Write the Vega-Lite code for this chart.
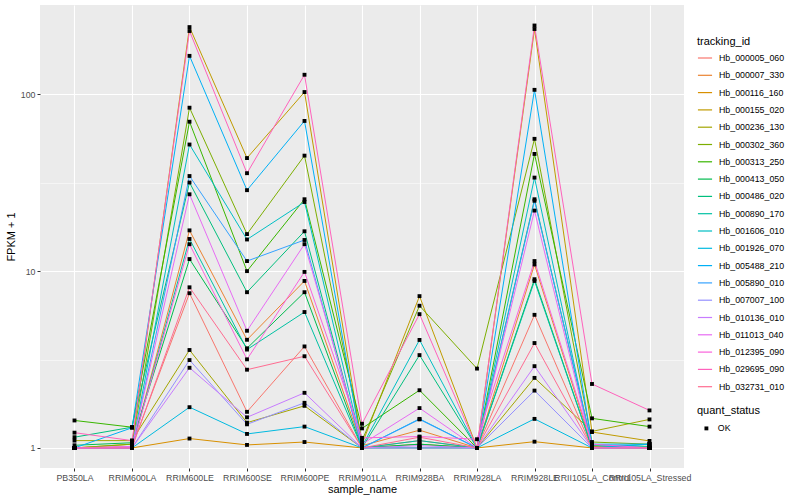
{
  "$schema": "https://vega.github.io/schema/vega-lite/v6.json",
  "width": 644,
  "height": 463,
  "autosize": {"type": "none"},
  "padding": {"left": 40, "top": 5, "right": 116, "bottom": 32},
  "config": {
    "font": "Liberation Sans",
    "view": {"fill": "#EBEBEB", "stroke": null},
    "axis": {"domain": false, "labelColor": "#4D4D4D", "labelFontSize": 8.8, "tickColor": "#333333", "tickSize": 3, "titleFontSize": 11, "titleFontWeight": "normal", "titleColor": "#000000", "gridColor": "#FFFFFF", "labelPadding": 2},
    "legend": {"labelFontSize": 8.8, "labelColor": "#000000", "titleFontSize": 11, "titleFontWeight": "normal", "titleColor": "#000000", "padding": 0}
  },
  "data": {"values": [
{"tracking_id":"Hb_000005_060","sample_name":"PB350LA","FPKM_plus_1":1.0,"quant_status":"OK"},
{"tracking_id":"Hb_000005_060","sample_name":"RRIM600LA","FPKM_plus_1":1.02,"quant_status":"OK"},
{"tracking_id":"Hb_000005_060","sample_name":"RRIM600LE","FPKM_plus_1":7.5,"quant_status":"OK"},
{"tracking_id":"Hb_000005_060","sample_name":"RRIM600SE","FPKM_plus_1":1.6,"quant_status":"OK"},
{"tracking_id":"Hb_000005_060","sample_name":"RRIM600PE","FPKM_plus_1":3.75,"quant_status":"OK"},
{"tracking_id":"Hb_000005_060","sample_name":"RRIM901LA","FPKM_plus_1":1.0,"quant_status":"OK"},
{"tracking_id":"Hb_000005_060","sample_name":"RRIM928BA","FPKM_plus_1":1.1,"quant_status":"OK"},
{"tracking_id":"Hb_000005_060","sample_name":"RRIM928LA","FPKM_plus_1":1.0,"quant_status":"OK"},
{"tracking_id":"Hb_000005_060","sample_name":"RRIM928LE","FPKM_plus_1":5.66,"quant_status":"OK"},
{"tracking_id":"Hb_000005_060","sample_name":"RRII105LA_Control","FPKM_plus_1":1.0,"quant_status":"OK"},
{"tracking_id":"Hb_000005_060","sample_name":"RRII105LA_Stressed","FPKM_plus_1":1.0,"quant_status":"OK"},
{"tracking_id":"Hb_000007_330","sample_name":"PB350LA","FPKM_plus_1":1.0,"quant_status":"OK"},
{"tracking_id":"Hb_000007_330","sample_name":"RRIM600LA","FPKM_plus_1":1.0,"quant_status":"OK"},
{"tracking_id":"Hb_000007_330","sample_name":"RRIM600LE","FPKM_plus_1":17.0,"quant_status":"OK"},
{"tracking_id":"Hb_000007_330","sample_name":"RRIM600SE","FPKM_plus_1":4.09,"quant_status":"OK"},
{"tracking_id":"Hb_000007_330","sample_name":"RRIM600PE","FPKM_plus_1":8.8,"quant_status":"OK"},
{"tracking_id":"Hb_000007_330","sample_name":"RRIM901LA","FPKM_plus_1":1.03,"quant_status":"OK"},
{"tracking_id":"Hb_000007_330","sample_name":"RRIM928BA","FPKM_plus_1":1.26,"quant_status":"OK"},
{"tracking_id":"Hb_000007_330","sample_name":"RRIM928LA","FPKM_plus_1":1.0,"quant_status":"OK"},
{"tracking_id":"Hb_000007_330","sample_name":"RRIM928LE","FPKM_plus_1":10.9,"quant_status":"OK"},
{"tracking_id":"Hb_000007_330","sample_name":"RRII105LA_Control","FPKM_plus_1":1.02,"quant_status":"OK"},
{"tracking_id":"Hb_000007_330","sample_name":"RRII105LA_Stressed","FPKM_plus_1":1.0,"quant_status":"OK"},
{"tracking_id":"Hb_000116_160","sample_name":"PB350LA","FPKM_plus_1":1.0,"quant_status":"OK"},
{"tracking_id":"Hb_000116_160","sample_name":"RRIM600LA","FPKM_plus_1":1.0,"quant_status":"OK"},
{"tracking_id":"Hb_000116_160","sample_name":"RRIM600LE","FPKM_plus_1":1.13,"quant_status":"OK"},
{"tracking_id":"Hb_000116_160","sample_name":"RRIM600SE","FPKM_plus_1":1.04,"quant_status":"OK"},
{"tracking_id":"Hb_000116_160","sample_name":"RRIM600PE","FPKM_plus_1":1.08,"quant_status":"OK"},
{"tracking_id":"Hb_000116_160","sample_name":"RRIM901LA","FPKM_plus_1":1.0,"quant_status":"OK"},
{"tracking_id":"Hb_000116_160","sample_name":"RRIM928BA","FPKM_plus_1":1.0,"quant_status":"OK"},
{"tracking_id":"Hb_000116_160","sample_name":"RRIM928LA","FPKM_plus_1":1.0,"quant_status":"OK"},
{"tracking_id":"Hb_000116_160","sample_name":"RRIM928LE","FPKM_plus_1":1.085,"quant_status":"OK"},
{"tracking_id":"Hb_000116_160","sample_name":"RRII105LA_Control","FPKM_plus_1":1.0,"quant_status":"OK"},
{"tracking_id":"Hb_000116_160","sample_name":"RRII105LA_Stressed","FPKM_plus_1":1.0,"quant_status":"OK"},
{"tracking_id":"Hb_000155_020","sample_name":"PB350LA","FPKM_plus_1":1.0,"quant_status":"OK"},
{"tracking_id":"Hb_000155_020","sample_name":"RRIM600LA","FPKM_plus_1":1.05,"quant_status":"OK"},
{"tracking_id":"Hb_000155_020","sample_name":"RRIM600LE","FPKM_plus_1":240,"quant_status":"OK"},
{"tracking_id":"Hb_000155_020","sample_name":"RRIM600SE","FPKM_plus_1":43.6,"quant_status":"OK"},
{"tracking_id":"Hb_000155_020","sample_name":"RRIM600PE","FPKM_plus_1":103,"quant_status":"OK"},
{"tracking_id":"Hb_000155_020","sample_name":"RRIM901LA","FPKM_plus_1":1.05,"quant_status":"OK"},
{"tracking_id":"Hb_000155_020","sample_name":"RRIM928BA","FPKM_plus_1":7.22,"quant_status":"OK"},
{"tracking_id":"Hb_000155_020","sample_name":"RRIM928LA","FPKM_plus_1":1.0,"quant_status":"OK"},
{"tracking_id":"Hb_000155_020","sample_name":"RRIM928LE","FPKM_plus_1":234,"quant_status":"OK"},
{"tracking_id":"Hb_000155_020","sample_name":"RRII105LA_Control","FPKM_plus_1":1.23,"quant_status":"OK"},
{"tracking_id":"Hb_000155_020","sample_name":"RRII105LA_Stressed","FPKM_plus_1":1.095,"quant_status":"OK"},
{"tracking_id":"Hb_000236_130","sample_name":"PB350LA","FPKM_plus_1":1.1,"quant_status":"OK"},
{"tracking_id":"Hb_000236_130","sample_name":"RRIM600LA","FPKM_plus_1":1.1,"quant_status":"OK"},
{"tracking_id":"Hb_000236_130","sample_name":"RRIM600LE","FPKM_plus_1":3.58,"quant_status":"OK"},
{"tracking_id":"Hb_000236_130","sample_name":"RRIM600SE","FPKM_plus_1":1.39,"quant_status":"OK"},
{"tracking_id":"Hb_000236_130","sample_name":"RRIM600PE","FPKM_plus_1":1.73,"quant_status":"OK"},
{"tracking_id":"Hb_000236_130","sample_name":"RRIM901LA","FPKM_plus_1":1.0,"quant_status":"OK"},
{"tracking_id":"Hb_000236_130","sample_name":"RRIM928BA","FPKM_plus_1":1.05,"quant_status":"OK"},
{"tracking_id":"Hb_000236_130","sample_name":"RRIM928LA","FPKM_plus_1":1.0,"quant_status":"OK"},
{"tracking_id":"Hb_000236_130","sample_name":"RRIM928LE","FPKM_plus_1":2.49,"quant_status":"OK"},
{"tracking_id":"Hb_000236_130","sample_name":"RRII105LA_Control","FPKM_plus_1":1.24,"quant_status":"OK"},
{"tracking_id":"Hb_000236_130","sample_name":"RRII105LA_Stressed","FPKM_plus_1":1.45,"quant_status":"OK"},
{"tracking_id":"Hb_000302_360","sample_name":"PB350LA","FPKM_plus_1":1.0,"quant_status":"OK"},
{"tracking_id":"Hb_000302_360","sample_name":"RRIM600LA","FPKM_plus_1":1.05,"quant_status":"OK"},
{"tracking_id":"Hb_000302_360","sample_name":"RRIM600LE","FPKM_plus_1":84,"quant_status":"OK"},
{"tracking_id":"Hb_000302_360","sample_name":"RRIM600SE","FPKM_plus_1":16.2,"quant_status":"OK"},
{"tracking_id":"Hb_000302_360","sample_name":"RRIM600PE","FPKM_plus_1":45,"quant_status":"OK"},
{"tracking_id":"Hb_000302_360","sample_name":"RRIM901LA","FPKM_plus_1":1.1,"quant_status":"OK"},
{"tracking_id":"Hb_000302_360","sample_name":"RRIM928BA","FPKM_plus_1":6.37,"quant_status":"OK"},
{"tracking_id":"Hb_000302_360","sample_name":"RRIM928LA","FPKM_plus_1":2.81,"quant_status":"OK"},
{"tracking_id":"Hb_000302_360","sample_name":"RRIM928LE","FPKM_plus_1":56,"quant_status":"OK"},
{"tracking_id":"Hb_000302_360","sample_name":"RRII105LA_Control","FPKM_plus_1":1.08,"quant_status":"OK"},
{"tracking_id":"Hb_000302_360","sample_name":"RRII105LA_Stressed","FPKM_plus_1":1.05,"quant_status":"OK"},
{"tracking_id":"Hb_000313_250","sample_name":"PB350LA","FPKM_plus_1":1.43,"quant_status":"OK"},
{"tracking_id":"Hb_000313_250","sample_name":"RRIM600LA","FPKM_plus_1":1.31,"quant_status":"OK"},
{"tracking_id":"Hb_000313_250","sample_name":"RRIM600LE","FPKM_plus_1":70,"quant_status":"OK"},
{"tracking_id":"Hb_000313_250","sample_name":"RRIM600SE","FPKM_plus_1":10.0,"quant_status":"OK"},
{"tracking_id":"Hb_000313_250","sample_name":"RRIM600PE","FPKM_plus_1":25.5,"quant_status":"OK"},
{"tracking_id":"Hb_000313_250","sample_name":"RRIM901LA","FPKM_plus_1":1.29,"quant_status":"OK"},
{"tracking_id":"Hb_000313_250","sample_name":"RRIM928BA","FPKM_plus_1":2.12,"quant_status":"OK"},
{"tracking_id":"Hb_000313_250","sample_name":"RRIM928LA","FPKM_plus_1":1.0,"quant_status":"OK"},
{"tracking_id":"Hb_000313_250","sample_name":"RRIM928LE","FPKM_plus_1":46,"quant_status":"OK"},
{"tracking_id":"Hb_000313_250","sample_name":"RRII105LA_Control","FPKM_plus_1":1.47,"quant_status":"OK"},
{"tracking_id":"Hb_000313_250","sample_name":"RRII105LA_Stressed","FPKM_plus_1":1.32,"quant_status":"OK"},
{"tracking_id":"Hb_000413_050","sample_name":"PB350LA","FPKM_plus_1":1.035,"quant_status":"OK"},
{"tracking_id":"Hb_000413_050","sample_name":"RRIM600LA","FPKM_plus_1":1.07,"quant_status":"OK"},
{"tracking_id":"Hb_000413_050","sample_name":"RRIM600LE","FPKM_plus_1":11.7,"quant_status":"OK"},
{"tracking_id":"Hb_000413_050","sample_name":"RRIM600SE","FPKM_plus_1":3.66,"quant_status":"OK"},
{"tracking_id":"Hb_000413_050","sample_name":"RRIM600PE","FPKM_plus_1":7.6,"quant_status":"OK"},
{"tracking_id":"Hb_000413_050","sample_name":"RRIM901LA","FPKM_plus_1":1.0,"quant_status":"OK"},
{"tracking_id":"Hb_000413_050","sample_name":"RRIM928BA","FPKM_plus_1":1.05,"quant_status":"OK"},
{"tracking_id":"Hb_000413_050","sample_name":"RRIM928LA","FPKM_plus_1":1.0,"quant_status":"OK"},
{"tracking_id":"Hb_000413_050","sample_name":"RRIM928LE","FPKM_plus_1":9.0,"quant_status":"OK"},
{"tracking_id":"Hb_000413_050","sample_name":"RRII105LA_Control","FPKM_plus_1":1.0,"quant_status":"OK"},
{"tracking_id":"Hb_000413_050","sample_name":"RRII105LA_Stressed","FPKM_plus_1":1.0,"quant_status":"OK"},
{"tracking_id":"Hb_000486_020","sample_name":"PB350LA","FPKM_plus_1":1.15,"quant_status":"OK"},
{"tracking_id":"Hb_000486_020","sample_name":"RRIM600LA","FPKM_plus_1":1.31,"quant_status":"OK"},
{"tracking_id":"Hb_000486_020","sample_name":"RRIM600LE","FPKM_plus_1":31.7,"quant_status":"OK"},
{"tracking_id":"Hb_000486_020","sample_name":"RRIM600SE","FPKM_plus_1":7.6,"quant_status":"OK"},
{"tracking_id":"Hb_000486_020","sample_name":"RRIM600PE","FPKM_plus_1":16.8,"quant_status":"OK"},
{"tracking_id":"Hb_000486_020","sample_name":"RRIM901LA","FPKM_plus_1":1.0,"quant_status":"OK"},
{"tracking_id":"Hb_000486_020","sample_name":"RRIM928BA","FPKM_plus_1":3.35,"quant_status":"OK"},
{"tracking_id":"Hb_000486_020","sample_name":"RRIM928LA","FPKM_plus_1":1.0,"quant_status":"OK"},
{"tracking_id":"Hb_000486_020","sample_name":"RRIM928LE","FPKM_plus_1":25.5,"quant_status":"OK"},
{"tracking_id":"Hb_000486_020","sample_name":"RRII105LA_Control","FPKM_plus_1":1.03,"quant_status":"OK"},
{"tracking_id":"Hb_000486_020","sample_name":"RRII105LA_Stressed","FPKM_plus_1":1.02,"quant_status":"OK"},
{"tracking_id":"Hb_000890_170","sample_name":"PB350LA","FPKM_plus_1":1.0,"quant_status":"OK"},
{"tracking_id":"Hb_000890_170","sample_name":"RRIM600LA","FPKM_plus_1":1.0,"quant_status":"OK"},
{"tracking_id":"Hb_000890_170","sample_name":"RRIM600LE","FPKM_plus_1":15.2,"quant_status":"OK"},
{"tracking_id":"Hb_000890_170","sample_name":"RRIM600SE","FPKM_plus_1":3.6,"quant_status":"OK"},
{"tracking_id":"Hb_000890_170","sample_name":"RRIM600PE","FPKM_plus_1":5.87,"quant_status":"OK"},
{"tracking_id":"Hb_000890_170","sample_name":"RRIM901LA","FPKM_plus_1":1.0,"quant_status":"OK"},
{"tracking_id":"Hb_000890_170","sample_name":"RRIM928BA","FPKM_plus_1":1.1,"quant_status":"OK"},
{"tracking_id":"Hb_000890_170","sample_name":"RRIM928LA","FPKM_plus_1":1.0,"quant_status":"OK"},
{"tracking_id":"Hb_000890_170","sample_name":"RRIM928LE","FPKM_plus_1":8.8,"quant_status":"OK"},
{"tracking_id":"Hb_000890_170","sample_name":"RRII105LA_Control","FPKM_plus_1":1.0,"quant_status":"OK"},
{"tracking_id":"Hb_000890_170","sample_name":"RRII105LA_Stressed","FPKM_plus_1":1.05,"quant_status":"OK"},
{"tracking_id":"Hb_001606_010","sample_name":"PB350LA","FPKM_plus_1":1.0,"quant_status":"OK"},
{"tracking_id":"Hb_001606_010","sample_name":"RRIM600LA","FPKM_plus_1":1.0,"quant_status":"OK"},
{"tracking_id":"Hb_001606_010","sample_name":"RRIM600LE","FPKM_plus_1":52,"quant_status":"OK"},
{"tracking_id":"Hb_001606_010","sample_name":"RRIM600SE","FPKM_plus_1":15.1,"quant_status":"OK"},
{"tracking_id":"Hb_001606_010","sample_name":"RRIM600PE","FPKM_plus_1":24.6,"quant_status":"OK"},
{"tracking_id":"Hb_001606_010","sample_name":"RRIM901LA","FPKM_plus_1":1.02,"quant_status":"OK"},
{"tracking_id":"Hb_001606_010","sample_name":"RRIM928BA","FPKM_plus_1":4.08,"quant_status":"OK"},
{"tracking_id":"Hb_001606_010","sample_name":"RRIM928LA","FPKM_plus_1":1.0,"quant_status":"OK"},
{"tracking_id":"Hb_001606_010","sample_name":"RRIM928LE","FPKM_plus_1":33.8,"quant_status":"OK"},
{"tracking_id":"Hb_001606_010","sample_name":"RRII105LA_Control","FPKM_plus_1":1.0,"quant_status":"OK"},
{"tracking_id":"Hb_001606_010","sample_name":"RRII105LA_Stressed","FPKM_plus_1":1.0,"quant_status":"OK"},
{"tracking_id":"Hb_001926_070","sample_name":"PB350LA","FPKM_plus_1":1.0,"quant_status":"OK"},
{"tracking_id":"Hb_001926_070","sample_name":"RRIM600LA","FPKM_plus_1":1.0,"quant_status":"OK"},
{"tracking_id":"Hb_001926_070","sample_name":"RRIM600LE","FPKM_plus_1":1.7,"quant_status":"OK"},
{"tracking_id":"Hb_001926_070","sample_name":"RRIM600SE","FPKM_plus_1":1.2,"quant_status":"OK"},
{"tracking_id":"Hb_001926_070","sample_name":"RRIM600PE","FPKM_plus_1":1.32,"quant_status":"OK"},
{"tracking_id":"Hb_001926_070","sample_name":"RRIM901LA","FPKM_plus_1":1.0,"quant_status":"OK"},
{"tracking_id":"Hb_001926_070","sample_name":"RRIM928BA","FPKM_plus_1":1.0,"quant_status":"OK"},
{"tracking_id":"Hb_001926_070","sample_name":"RRIM928LA","FPKM_plus_1":1.0,"quant_status":"OK"},
{"tracking_id":"Hb_001926_070","sample_name":"RRIM928LE","FPKM_plus_1":1.46,"quant_status":"OK"},
{"tracking_id":"Hb_001926_070","sample_name":"RRII105LA_Control","FPKM_plus_1":1.0,"quant_status":"OK"},
{"tracking_id":"Hb_001926_070","sample_name":"RRII105LA_Stressed","FPKM_plus_1":1.05,"quant_status":"OK"},
{"tracking_id":"Hb_005488_210","sample_name":"PB350LA","FPKM_plus_1":1.0,"quant_status":"OK"},
{"tracking_id":"Hb_005488_210","sample_name":"RRIM600LA","FPKM_plus_1":1.3,"quant_status":"OK"},
{"tracking_id":"Hb_005488_210","sample_name":"RRIM600LE","FPKM_plus_1":165,"quant_status":"OK"},
{"tracking_id":"Hb_005488_210","sample_name":"RRIM600SE","FPKM_plus_1":28.7,"quant_status":"OK"},
{"tracking_id":"Hb_005488_210","sample_name":"RRIM600PE","FPKM_plus_1":70.7,"quant_status":"OK"},
{"tracking_id":"Hb_005488_210","sample_name":"RRIM901LA","FPKM_plus_1":1.0,"quant_status":"OK"},
{"tracking_id":"Hb_005488_210","sample_name":"RRIM928BA","FPKM_plus_1":1.46,"quant_status":"OK"},
{"tracking_id":"Hb_005488_210","sample_name":"RRIM928LA","FPKM_plus_1":1.0,"quant_status":"OK"},
{"tracking_id":"Hb_005488_210","sample_name":"RRIM928LE","FPKM_plus_1":106,"quant_status":"OK"},
{"tracking_id":"Hb_005488_210","sample_name":"RRII105LA_Control","FPKM_plus_1":1.05,"quant_status":"OK"},
{"tracking_id":"Hb_005488_210","sample_name":"RRII105LA_Stressed","FPKM_plus_1":1.05,"quant_status":"OK"},
{"tracking_id":"Hb_005890_010","sample_name":"PB350LA","FPKM_plus_1":1.0,"quant_status":"OK"},
{"tracking_id":"Hb_005890_010","sample_name":"RRIM600LA","FPKM_plus_1":1.0,"quant_status":"OK"},
{"tracking_id":"Hb_005890_010","sample_name":"RRIM600LE","FPKM_plus_1":34.5,"quant_status":"OK"},
{"tracking_id":"Hb_005890_010","sample_name":"RRIM600SE","FPKM_plus_1":11.4,"quant_status":"OK"},
{"tracking_id":"Hb_005890_010","sample_name":"RRIM600PE","FPKM_plus_1":15.0,"quant_status":"OK"},
{"tracking_id":"Hb_005890_010","sample_name":"RRIM901LA","FPKM_plus_1":1.0,"quant_status":"OK"},
{"tracking_id":"Hb_005890_010","sample_name":"RRIM928BA","FPKM_plus_1":1.45,"quant_status":"OK"},
{"tracking_id":"Hb_005890_010","sample_name":"RRIM928LA","FPKM_plus_1":1.0,"quant_status":"OK"},
{"tracking_id":"Hb_005890_010","sample_name":"RRIM928LE","FPKM_plus_1":25.0,"quant_status":"OK"},
{"tracking_id":"Hb_005890_010","sample_name":"RRII105LA_Control","FPKM_plus_1":1.05,"quant_status":"OK"},
{"tracking_id":"Hb_005890_010","sample_name":"RRII105LA_Stressed","FPKM_plus_1":1.0,"quant_status":"OK"},
{"tracking_id":"Hb_007007_100","sample_name":"PB350LA","FPKM_plus_1":1.0,"quant_status":"OK"},
{"tracking_id":"Hb_007007_100","sample_name":"RRIM600LA","FPKM_plus_1":1.0,"quant_status":"OK"},
{"tracking_id":"Hb_007007_100","sample_name":"RRIM600LE","FPKM_plus_1":3.14,"quant_status":"OK"},
{"tracking_id":"Hb_007007_100","sample_name":"RRIM600SE","FPKM_plus_1":1.36,"quant_status":"OK"},
{"tracking_id":"Hb_007007_100","sample_name":"RRIM600PE","FPKM_plus_1":1.8,"quant_status":"OK"},
{"tracking_id":"Hb_007007_100","sample_name":"RRIM901LA","FPKM_plus_1":1.0,"quant_status":"OK"},
{"tracking_id":"Hb_007007_100","sample_name":"RRIM928BA","FPKM_plus_1":1.0,"quant_status":"OK"},
{"tracking_id":"Hb_007007_100","sample_name":"RRIM928LA","FPKM_plus_1":1.0,"quant_status":"OK"},
{"tracking_id":"Hb_007007_100","sample_name":"RRIM928LE","FPKM_plus_1":2.11,"quant_status":"OK"},
{"tracking_id":"Hb_007007_100","sample_name":"RRII105LA_Control","FPKM_plus_1":1.0,"quant_status":"OK"},
{"tracking_id":"Hb_007007_100","sample_name":"RRII105LA_Stressed","FPKM_plus_1":1.0,"quant_status":"OK"},
{"tracking_id":"Hb_010136_010","sample_name":"PB350LA","FPKM_plus_1":1.0,"quant_status":"OK"},
{"tracking_id":"Hb_010136_010","sample_name":"RRIM600LA","FPKM_plus_1":1.0,"quant_status":"OK"},
{"tracking_id":"Hb_010136_010","sample_name":"RRIM600LE","FPKM_plus_1":2.84,"quant_status":"OK"},
{"tracking_id":"Hb_010136_010","sample_name":"RRIM600SE","FPKM_plus_1":1.49,"quant_status":"OK"},
{"tracking_id":"Hb_010136_010","sample_name":"RRIM600PE","FPKM_plus_1":2.05,"quant_status":"OK"},
{"tracking_id":"Hb_010136_010","sample_name":"RRIM901LA","FPKM_plus_1":1.0,"quant_status":"OK"},
{"tracking_id":"Hb_010136_010","sample_name":"RRIM928BA","FPKM_plus_1":1.03,"quant_status":"OK"},
{"tracking_id":"Hb_010136_010","sample_name":"RRIM928LA","FPKM_plus_1":1.0,"quant_status":"OK"},
{"tracking_id":"Hb_010136_010","sample_name":"RRIM928LE","FPKM_plus_1":2.9,"quant_status":"OK"},
{"tracking_id":"Hb_010136_010","sample_name":"RRII105LA_Control","FPKM_plus_1":1.0,"quant_status":"OK"},
{"tracking_id":"Hb_010136_010","sample_name":"RRII105LA_Stressed","FPKM_plus_1":1.0,"quant_status":"OK"},
{"tracking_id":"Hb_011013_040","sample_name":"PB350LA","FPKM_plus_1":1.0,"quant_status":"OK"},
{"tracking_id":"Hb_011013_040","sample_name":"RRIM600LA","FPKM_plus_1":1.02,"quant_status":"OK"},
{"tracking_id":"Hb_011013_040","sample_name":"RRIM600LE","FPKM_plus_1":27.2,"quant_status":"OK"},
{"tracking_id":"Hb_011013_040","sample_name":"RRIM600SE","FPKM_plus_1":4.6,"quant_status":"OK"},
{"tracking_id":"Hb_011013_040","sample_name":"RRIM600PE","FPKM_plus_1":14.2,"quant_status":"OK"},
{"tracking_id":"Hb_011013_040","sample_name":"RRIM901LA","FPKM_plus_1":1.05,"quant_status":"OK"},
{"tracking_id":"Hb_011013_040","sample_name":"RRIM928BA","FPKM_plus_1":1.68,"quant_status":"OK"},
{"tracking_id":"Hb_011013_040","sample_name":"RRIM928LA","FPKM_plus_1":1.0,"quant_status":"OK"},
{"tracking_id":"Hb_011013_040","sample_name":"RRIM928LE","FPKM_plus_1":22,"quant_status":"OK"},
{"tracking_id":"Hb_011013_040","sample_name":"RRII105LA_Control","FPKM_plus_1":1.0,"quant_status":"OK"},
{"tracking_id":"Hb_011013_040","sample_name":"RRII105LA_Stressed","FPKM_plus_1":1.0,"quant_status":"OK"},
{"tracking_id":"Hb_012395_090","sample_name":"PB350LA","FPKM_plus_1":1.0,"quant_status":"OK"},
{"tracking_id":"Hb_012395_090","sample_name":"RRIM600LA","FPKM_plus_1":1.0,"quant_status":"OK"},
{"tracking_id":"Hb_012395_090","sample_name":"RRIM600LE","FPKM_plus_1":14.2,"quant_status":"OK"},
{"tracking_id":"Hb_012395_090","sample_name":"RRIM600SE","FPKM_plus_1":3.17,"quant_status":"OK"},
{"tracking_id":"Hb_012395_090","sample_name":"RRIM600PE","FPKM_plus_1":9.9,"quant_status":"OK"},
{"tracking_id":"Hb_012395_090","sample_name":"RRIM901LA","FPKM_plus_1":1.14,"quant_status":"OK"},
{"tracking_id":"Hb_012395_090","sample_name":"RRIM928BA","FPKM_plus_1":1.16,"quant_status":"OK"},
{"tracking_id":"Hb_012395_090","sample_name":"RRIM928LA","FPKM_plus_1":1.12,"quant_status":"OK"},
{"tracking_id":"Hb_012395_090","sample_name":"RRIM928LE","FPKM_plus_1":11.4,"quant_status":"OK"},
{"tracking_id":"Hb_012395_090","sample_name":"RRII105LA_Control","FPKM_plus_1":1.05,"quant_status":"OK"},
{"tracking_id":"Hb_012395_090","sample_name":"RRII105LA_Stressed","FPKM_plus_1":1.0,"quant_status":"OK"},
{"tracking_id":"Hb_029695_090","sample_name":"PB350LA","FPKM_plus_1":1.22,"quant_status":"OK"},
{"tracking_id":"Hb_029695_090","sample_name":"RRIM600LA","FPKM_plus_1":1.1,"quant_status":"OK"},
{"tracking_id":"Hb_029695_090","sample_name":"RRIM600LE","FPKM_plus_1":228,"quant_status":"OK"},
{"tracking_id":"Hb_029695_090","sample_name":"RRIM600SE","FPKM_plus_1":35.8,"quant_status":"OK"},
{"tracking_id":"Hb_029695_090","sample_name":"RRIM600PE","FPKM_plus_1":129,"quant_status":"OK"},
{"tracking_id":"Hb_029695_090","sample_name":"RRIM901LA","FPKM_plus_1":1.37,"quant_status":"OK"},
{"tracking_id":"Hb_029695_090","sample_name":"RRIM928BA","FPKM_plus_1":5.71,"quant_status":"OK"},
{"tracking_id":"Hb_029695_090","sample_name":"RRIM928LA","FPKM_plus_1":1.0,"quant_status":"OK"},
{"tracking_id":"Hb_029695_090","sample_name":"RRIM928LE","FPKM_plus_1":245,"quant_status":"OK"},
{"tracking_id":"Hb_029695_090","sample_name":"RRII105LA_Control","FPKM_plus_1":2.3,"quant_status":"OK"},
{"tracking_id":"Hb_029695_090","sample_name":"RRII105LA_Stressed","FPKM_plus_1":1.63,"quant_status":"OK"},
{"tracking_id":"Hb_032731_010","sample_name":"PB350LA","FPKM_plus_1":1.0,"quant_status":"OK"},
{"tracking_id":"Hb_032731_010","sample_name":"RRIM600LA","FPKM_plus_1":1.0,"quant_status":"OK"},
{"tracking_id":"Hb_032731_010","sample_name":"RRIM600LE","FPKM_plus_1":8.1,"quant_status":"OK"},
{"tracking_id":"Hb_032731_010","sample_name":"RRIM600SE","FPKM_plus_1":2.77,"quant_status":"OK"},
{"tracking_id":"Hb_032731_010","sample_name":"RRIM600PE","FPKM_plus_1":3.3,"quant_status":"OK"},
{"tracking_id":"Hb_032731_010","sample_name":"RRIM901LA","FPKM_plus_1":1.0,"quant_status":"OK"},
{"tracking_id":"Hb_032731_010","sample_name":"RRIM928BA","FPKM_plus_1":1.15,"quant_status":"OK"},
{"tracking_id":"Hb_032731_010","sample_name":"RRIM928LA","FPKM_plus_1":1.0,"quant_status":"OK"},
{"tracking_id":"Hb_032731_010","sample_name":"RRIM928LE","FPKM_plus_1":3.92,"quant_status":"OK"},
{"tracking_id":"Hb_032731_010","sample_name":"RRII105LA_Control","FPKM_plus_1":1.0,"quant_status":"OK"},
{"tracking_id":"Hb_032731_010","sample_name":"RRII105LA_Stressed","FPKM_plus_1":1.0,"quant_status":"OK"}
  ]},
  "encoding": {
    "x": {"field": "sample_name", "type": "nominal",
      "scale": {"type": "point", "padding": 0.6, "domain": ["PB350LA","RRIM600LA","RRIM600LE","RRIM600SE","RRIM600PE","RRIM901LA","RRIM928BA","RRIM928LA","RRIM928LE","RRII105LA_Control","RRII105LA_Stressed"]},
      "axis": {"labelAngle": 0, "labelOverlap": false, "grid": true, "gridWidth": 1.1, "title": "sample_name", "titlePadding": 2}},
    "y": {"field": "FPKM_plus_1", "type": "quantitative",
      "scale": {"type": "log", "domain": [0.77, 320], "nice": false},
      "axis": {"values": [1, 3.1623, 10, 31.623, 100], "format": "~g",
        "labelExpr": "datum.value == 1 || datum.value == 10 || datum.value == 100 ? datum.label : ''",
        "gridWidth": {"condition": {"test": "datum.value == 1 || datum.value == 10 || datum.value == 100", "value": 1.1}, "value": 0.5},
        "tickOpacity": {"condition": {"test": "datum.value == 1 || datum.value == 10 || datum.value == 100", "value": 1}, "value": 0},
        "title": "FPKM + 1", "titlePadding": 4}}
  },
  "layer": [
    {"mark": {"type": "line", "strokeWidth": 1},
     "encoding": {
       "order": {"value": null},
       "color": {"field": "tracking_id", "type": "nominal",
         "scale": {"domain": ["Hb_000005_060","Hb_000007_330","Hb_000116_160","Hb_000155_020","Hb_000236_130","Hb_000302_360","Hb_000313_250","Hb_000413_050","Hb_000486_020","Hb_000890_170","Hb_001606_010","Hb_001926_070","Hb_005488_210","Hb_005890_010","Hb_007007_100","Hb_010136_010","Hb_011013_040","Hb_012395_090","Hb_029695_090","Hb_032731_010"],
           "range": ["#F8766D","#EA8331","#D89000","#C09B00","#A3A500","#7CAE00","#39B600","#00BB4E","#00BF7D","#00C1A3","#00BFC4","#00BAE0","#00B0F6","#35A2FF","#9590FF","#C77CFF","#E76BF3","#FA62DB","#FF62BC","#FF6C91"]},
         "legend": {"title": "tracking_id", "orient": "none", "legendX": 657, "legendY": 31, "symbolType": "M-1,0H1", "symbolStrokeWidth": 1.2, "symbolSize": 200, "rowPadding": 4.3, "titlePadding": 3, "labelOffset": 6}}
     }},
    {"mark": {"type": "point", "shape": "square", "filled": true, "color": "#000000", "size": 15, "opacity": 1},
     "encoding": {
       "shape": {"field": "quant_status", "type": "nominal", "scale": {"range": ["square"]},
         "legend": {"title": "quant_status", "orient": "none", "legendX": 657, "legendY": 400, "symbolFillColor": "#000000", "symbolStrokeColor": "#000000", "symbolSize": 15, "titlePadding": 8, "labelOffset": 7, "symbolOffset": 5}}
     }}
  ]
}
